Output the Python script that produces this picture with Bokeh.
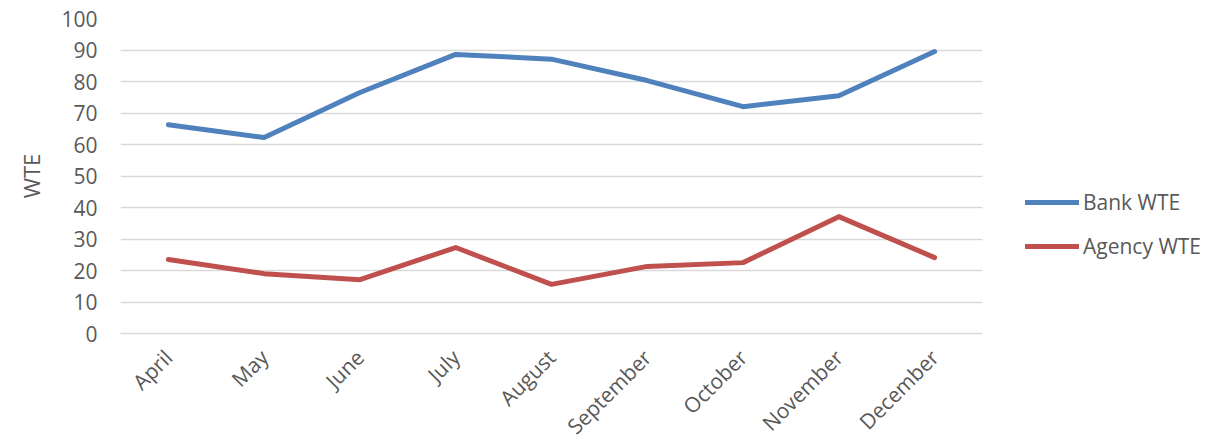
from math import pi
from bokeh.plotting import figure
from bokeh.models import Legend, LegendItem, FactorRange, Range1d, SingleIntervalTicker
from bokeh.embed import file_html
from bokeh.resources import INLINE

months = ["April", "May", "June", "July", "August", "September", "October", "November", "December"]
bank_wte = [66.3, 62.2, 76.5, 88.6, 87.1, 80.3, 72.0, 75.5, 89.5]
agency_wte = [23.5, 19.0, 17.1, 27.3, 15.6, 21.3, 22.5, 37.1, 24.1]

FONT = "Open Sans"
GREY = "#595959"

p = figure(frame_width=862, frame_height=315, x_range=FactorRange(*months, range_padding=0),
           y_range=Range1d(0, 100), output_backend="svg", toolbar_location=None,
           min_border_left=120, min_border_right=0, min_border_top=18, min_border_bottom=0)
p.outline_line_color = None
p.background_fill_color = "white"
p.border_fill_color = "white"

r1 = p.line(months, bank_wte, line_color="#4F81BD", line_width=5, line_cap="round", line_join="round")
r2 = p.line(months, agency_wte, line_color="#C0504D", line_width=5, line_cap="round", line_join="round")

p.yaxis.ticker = SingleIntervalTicker(interval=10)
p.ygrid.grid_line_color = "#D9D9D9"
p.ygrid.grid_line_width = 1.3
p.xgrid.grid_line_color = None

for ax in (p.xaxis[0], p.yaxis[0]):
    ax.major_tick_line_color = None
    ax.minor_tick_line_color = None
    ax.major_label_text_font = FONT
    ax.major_label_text_font_size = "21px"
    ax.major_label_text_color = GREY
    ax.axis_label_text_font = FONT
    ax.axis_label_text_color = GREY
    ax.axis_label_text_font_style = "normal"

p.yaxis.axis_line_color = None
p.xaxis.axis_line_color = "#D9D9D9"
p.xaxis.axis_line_width = 1.3
p.yaxis.major_label_standoff = 17
p.yaxis.axis_label = "WTE"
p.yaxis.axis_label_text_font_size = "22px"
p.yaxis.axis_label_standoff = 12
p.xaxis.major_label_orientation = pi / 4
p.xaxis.major_label_standoff = 14

legend = Legend(items=[LegendItem(label="Bank WTE", renderers=[r1]),
                       LegendItem(label="Agency WTE", renderers=[r2])],
                location=(43, 73), orientation="vertical",
                glyph_width=54, glyph_height=24, label_height=24,
                label_standoff=4, spacing=16, padding=0, margin=0,
                border_line_color=None, background_fill_alpha=0,
                label_text_font=FONT, label_text_font_size="21px", label_text_color=GREY)
p.add_layout(legend, "right")

open("out.html", "w").write(file_html(p, INLINE))
